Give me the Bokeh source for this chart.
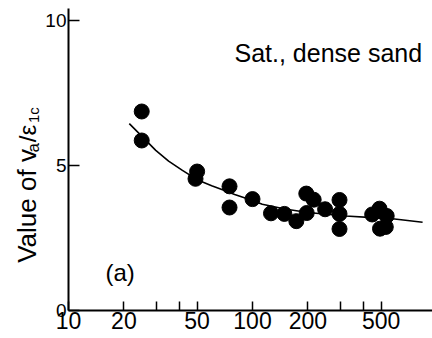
import math
from bokeh.plotting import figure
from bokeh.layouts import row
from bokeh.models import FixedTicker, Label, BasicTickFormatter, Range1d
from bokeh.core.properties import value
from bokeh.embed import file_html
from bokeh.resources import INLINE

# ---- data ----
pt_x = [25, 25, 50, 49, 75, 75, 100, 126, 149, 173, 196, 215, 197, 248,
        297, 297, 297, 447, 490, 536, 493, 530]
pt_y = [6.86, 5.86, 4.79, 4.54, 4.28, 3.55, 3.84, 3.35, 3.33, 3.08, 4.03, 3.82,
        3.36, 3.49, 3.81, 3.33, 2.81, 3.31, 3.51, 3.26, 2.82, 2.88]

curve_x = [21.4, 25, 29.8, 35, 41.6, 50, 60, 68.7, 80, 100, 113, 150, 200, 321, 450, 577, 840]
curve_y = [6.44, 6.01, 5.52, 5.15, 4.83, 4.51, 4.30, 4.16, 4.00, 3.79, 3.66, 3.50, 3.38, 3.26, 3.20, 3.16, 3.04]

x_ticks = [10, 20, 50, 100, 200, 500]
x_tick_labels = ["10", "20", "50", "100", "200", "500"]
x_minor = [30, 40, 300, 400]
y_ticks = [0, 5, 10]
y_tick_labels = ["0", "5", "10"]

FONT = "Liberation Sans"
H = 338
LEFT_W = 42

# ---- left strip carrying the rotated y-axis title ----
t = figure(width=LEFT_W, height=H, x_range=Range1d(0, LEFT_W), y_range=Range1d(0, H),
           min_border=0, output_backend="svg", toolbar_location=None)
t.axis.visible = False
t.grid.visible = False
t.outline_line_color = None
t.background_fill_color = "white"
t.border_fill_color = "white"

def vtext(txt, px, py, size):
    t.text(x=[px], y=[H - py], text=[txt], angle=math.pi / 2,
           text_font=value(FONT), text_font_size=value(size),
           text_color="black", text_align="center", text_baseline="middle")

# Value of v_a / ε_1c  (each piece placed by its centre)
vtext("Value of v", 26, 221, "26px")
vtext("a", 32.5, 156, "17px")
vtext("/ε", 26.6, 140, "24px")
vtext("1c", 32.5, 119.3, "15px")

# ---- main plot ----
p = figure(x_axis_type="log", x_range=(10, 975), y_range=(0, 10.41),
           frame_width=366, frame_height=302,
           min_border_left=24, min_border_right=0, min_border_top=8, min_border_bottom=28,
           output_backend="svg", toolbar_location=None)
p.outline_line_color = None
p.xgrid.visible = False
p.ygrid.visible = False
p.background_fill_color = "white"
p.border_fill_color = "white"

p.xaxis.ticker = FixedTicker(ticks=x_ticks, minor_ticks=x_minor)
p.xaxis.formatter = BasicTickFormatter()
p.xaxis.major_label_overrides = {tk: lb for tk, lb in zip(x_ticks, x_tick_labels)}
p.xaxis.major_label_text_font = FONT
p.xaxis.major_label_text_font_size = "23px"
p.xaxis.major_label_text_color = "black"
p.xaxis.major_label_standoff = 1
p.xaxis.major_tick_in = 9
p.xaxis.major_tick_out = 0
p.xaxis.minor_tick_in = 9
p.xaxis.minor_tick_out = 0

p.yaxis.ticker = FixedTicker(ticks=y_ticks, minor_ticks=[])
p.yaxis.major_label_overrides = {tk: lb for tk, lb in zip(y_ticks, y_tick_labels)}
p.yaxis.major_label_text_font = FONT
p.yaxis.major_label_text_font_size = "19px"
p.yaxis.major_label_text_color = "black"
p.yaxis.major_label_standoff = 2
p.yaxis.major_tick_in = 11
p.yaxis.major_tick_out = 0
p.yaxis.minor_tick_in = 0
p.yaxis.minor_tick_out = 0

for ax in (p.xaxis, p.yaxis):
    ax.axis_line_width = 2
    ax.axis_line_color = "black"
    ax.major_tick_line_width = 1.5
    ax.major_tick_line_color = "black"
    ax.minor_tick_line_width = 1.5
    ax.minor_tick_line_color = "black"

p.line(curve_x, curve_y, line_color="black", line_width=1.6)
p.scatter(pt_x, pt_y, size=15, fill_color="black", line_color="black")

def dx(px):
    return 10 ** (1 + (px - 66) / 184)

def dy(py):
    return (310 - py) / 29

def add_label(text, px, py, size):
    p.add_layout(Label(x=dx(px), y=dy(py), text=text, text_font=FONT,
                       text_font_size=size, text_color="black",
                       text_align="left", text_baseline="alphabetic"))

add_label("Sat., dense sand", 232, 53, "25px")
add_label("(a)", 103, 272, "24px")

layout = row(t, p, spacing=0)
open("out.html", "w").write(file_html(layout, INLINE))
